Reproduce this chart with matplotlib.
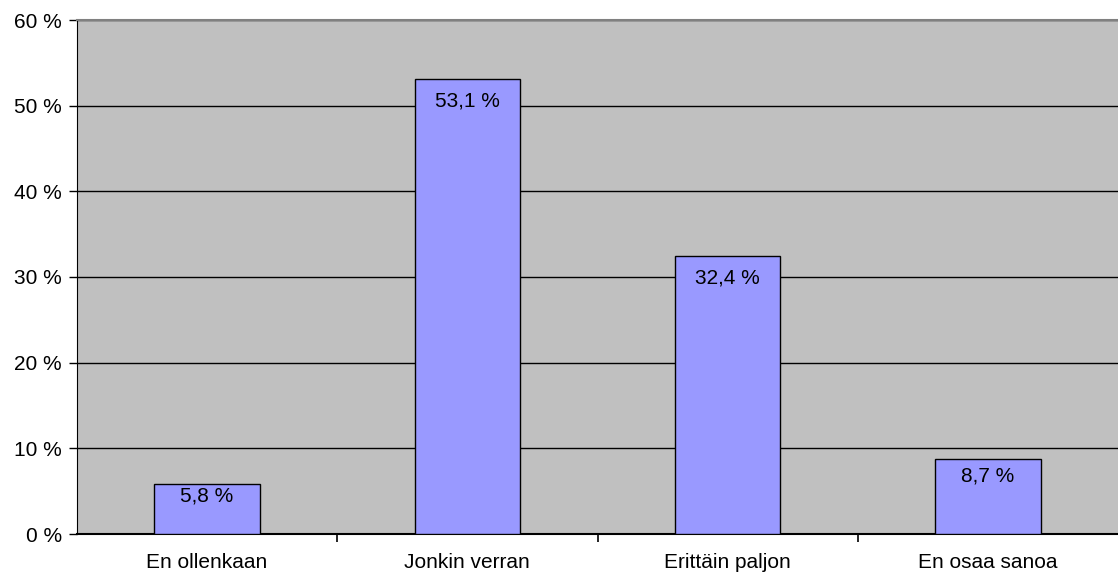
import matplotlib
matplotlib.use("Agg")
import matplotlib.pyplot as plt
from matplotlib.ticker import FixedLocator

categories = ["En ollenkaan", "Jonkin verran", "Erittäin paljon", "En osaa sanoa"]
values = [5.8, 53.1, 32.4, 8.7]
y_ticks = [0, 10, 20, 30, 40, 50, 60]
y_tick_labels = ["0 %", "10 %", "20 %", "30 %", "40 %", "50 %", "60 %"]

plt.rcParams["font.family"] = ["Liberation Sans", "DejaVu Sans"]
FS = 15

fig = plt.figure(figsize=(11.18, 5.72), dpi=100)
ax = fig.add_axes([77 / 1118, 1 - 534 / 572, 1 - 77 / 1118, (534 - 20) / 572])
ax.set_facecolor("#C0C0C0")

x = list(range(len(categories)))
bars = ax.bar(x, values, width=0.405, color="#9999FF", edgecolor="black",
              linewidth=1.0, zorder=3)

ax.set_xlim(-0.5, len(categories) - 0.5)
ax.set_ylim(0, 60)

# value labels just inside the bar tops; short bars pull the label up
px_per_unit = ax.get_position().height * fig.get_figheight() * fig.dpi / 60
for xi, v in zip(x, values):
    bar_px = v * px_per_unit
    gap_px = max(2.0, min(12.0, 0.2 * (bar_px - 38)))
    ax.annotate(f"{v:.1f} %".replace(".", ","), xy=(xi, v),
                xytext=(0, -gap_px * 72 / fig.dpi), textcoords="offset points",
                ha="center", va="top", fontsize=FS, color="black", zorder=4)

ax.set_yticks(y_ticks)
ax.set_yticklabels(y_tick_labels, fontsize=FS)
ax.yaxis.grid(True, color="black", linewidth=1.0, zorder=1)
ax.set_axisbelow(True)

# category labels centred, tick marks on the boundaries between categories
ax.set_xticks(x)
ax.set_xticklabels(categories, fontsize=FS)
ax.tick_params(axis="x", which="major", length=0, pad=14)
ax.xaxis.set_minor_locator(FixedLocator([0.5, 1.5, 2.5]))
ax.tick_params(axis="x", which="minor", length=6, width=1.2, color="black", direction="out")
ax.tick_params(axis="y", length=6, width=1.0, color="black", direction="out", pad=5)

ax.spines["right"].set_visible(False)
ax.spines["top"].set_color("#808080")
ax.spines["top"].set_linewidth(1.5)
ax.spines["left"].set_color("black")
ax.spines["bottom"].set_color("black")
ax.spines["bottom"].set_linewidth(1.5)

fig.savefig("out.png", dpi=100, facecolor="white")
